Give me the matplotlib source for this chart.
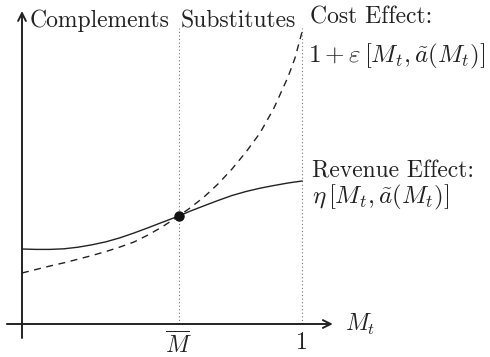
import matplotlib
matplotlib.use("Agg")
import matplotlib.pyplot as plt

plt.rcParams['font.family'] = ['cmr10', 'DejaVu Serif']
plt.rcParams['mathtext.fontset'] = 'cm'
plt.rcParams['axes.unicode_minus'] = False

# revenue effect (solid), read along M_t in [0, 1]
m_rev = [0.0, 0.05, 0.1, 0.15, 0.2, 0.25, 0.3, 0.35, 0.4, 0.45, 0.5, 0.56,
         0.6, 0.65, 0.7, 0.75, 0.8, 0.85, 0.9, 0.95, 1.0]
revenue = [0.750, 0.746, 0.746, 0.752, 0.768, 0.792, 0.822, 0.862, 0.910,
           0.962, 1.016, 1.080, 1.128, 1.182, 1.235, 1.285, 1.325, 1.358,
           1.385, 1.410, 1.430]

# cost effect (dashed)
m_cost = [0.0, 0.05, 0.1, 0.15, 0.2, 0.25, 0.3, 0.35, 0.4, 0.45, 0.5, 0.56,
          0.6, 0.65, 0.7, 0.75, 0.8, 0.85, 0.9, 0.95, 0.975, 1.0]
cost = [0.51, 0.545, 0.58, 0.612, 0.648, 0.685, 0.725, 0.77, 0.82, 0.89,
        0.97, 1.08, 1.16, 1.27, 1.40, 1.55, 1.72, 1.91, 2.16, 2.47, 2.66, 2.92]

m_bar = 0.56
y_bar = 1.08

fig = plt.figure(figsize=(4.9, 3.57), dpi=100)
ax = fig.add_axes([0, 0, 1, 1])
ax.set_xlim(-22 / 280, 468 / 280)
ax.set_ylim(-0.33, 3.24)
ax.axis('off')

ink = '#222222'

# axes with open arrow heads
arrow = dict(arrowstyle='->', lw=1.4, color=ink, shrinkA=0, shrinkB=0,
             mutation_scale=14)
ax.annotate('', xy=(1.11, 0), xytext=(-0.054, 0), arrowprops=arrow)
ax.annotate('', xy=(0, 3.13), xytext=(0, -0.14), arrowprops=arrow)

# dotted guides at M-bar and 1
for xv in [m_bar, 1.0]:
    ax.plot([xv, xv], [0, 2.96], color='#777777', lw=0.8, ls=(0, (1, 2.2)))

ax.plot(m_rev, revenue, color=ink, lw=1.0)
ax.plot(m_cost, cost, color=ink, lw=1.0, ls=(0, (5, 4)))
ax.plot([m_bar], [y_bar], 'o', color='#111111', ms=6.5)

fs = 17
fs_math = 18
ax.text(0.029, 2.965, 'Complements', fontsize=fs, va='baseline', color=ink)
ax.text(0.568, 2.965, 'Substitutes', fontsize=fs, va='baseline', color=ink)
ax.text(1.029, 3.00, 'Cost Effect:', fontsize=fs, va='baseline', color=ink)
ax.text(1.020, 2.62, r'$1+\varepsilon\,[M_t,\tilde{a}(M_t)]$',
        fontsize=fs_math, va='baseline', color=ink)
ax.text(1.036, 1.47, 'Revenue Effect:', fontsize=fs, va='baseline', color=ink)
ax.text(1.034, 1.21, r'$\eta\,[M_t,\tilde{a}(M_t)]$', fontsize=fs_math,
        va='baseline', color=ink)
ax.text(1.154, -0.07, r'$M_t$', fontsize=fs, va='baseline', color=ink)
ax.text(m_bar, -0.29, r'$\overline{M}$', fontsize=fs, va='baseline', ha='center',
        color=ink)
ax.text(1.0, -0.25, '1', fontsize=fs, va='baseline', ha='center', color=ink)

fig.savefig('out.png', dpi=100)
